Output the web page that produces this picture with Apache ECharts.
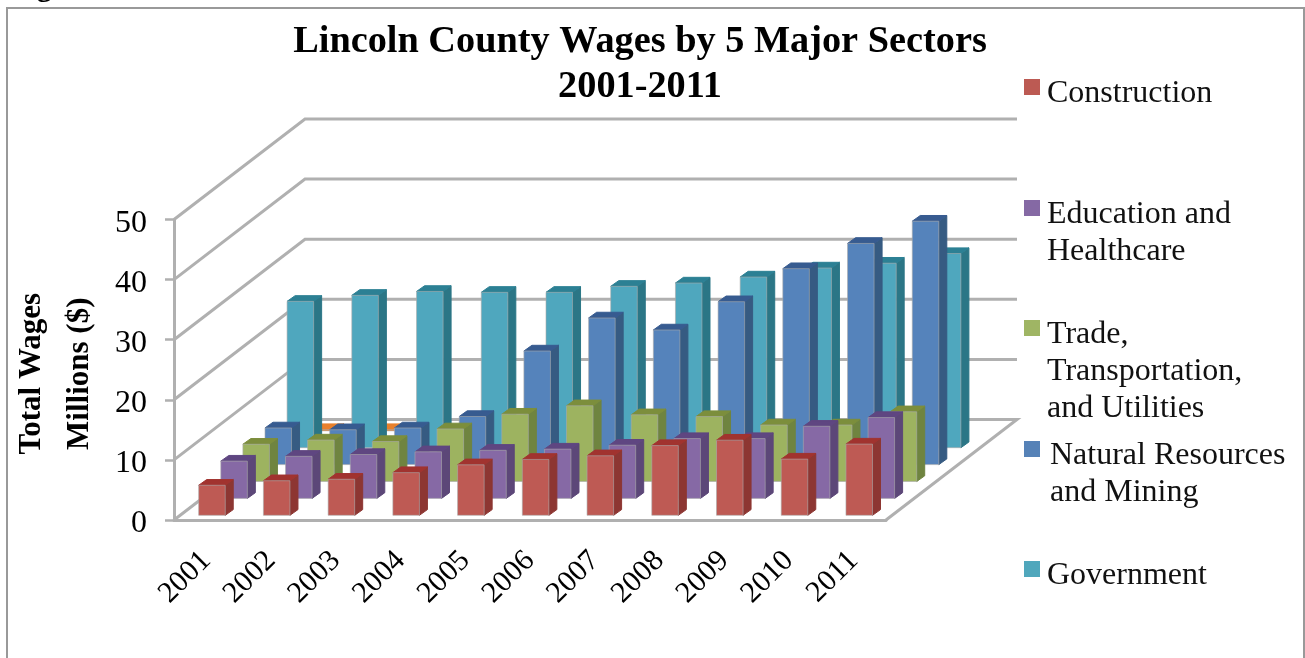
<!DOCTYPE html>
<html>
<head>
<meta charset="utf-8">
<title>Lincoln County Wages by 5 Major Sectors</title>
<script src="https://cdn.jsdelivr.net/npm/echarts@6/dist/echarts.min.js"></script>
<style>
  html, body { margin: 0; padding: 0; background: #fff; overflow: hidden; }
  #chart { width: 1305px; height: 658px; }
</style>
</head>
<body>
<div id="chart"></div>
<script>
// Wages in millions of dollars, one array per sector
const years = ['2001', '2002', '2003', '2004', '2005', '2006', '2007', '2008', '2009', '2010', '2011'];
const construction = [5.0, 5.75, 6.0, 7.1, 8.4, 9.3, 9.9, 11.6, 12.5, 9.35, 11.85];
const education = [6.2, 7.0, 7.3, 7.75, 8.0, 8.2, 8.85, 9.95, 9.95, 12.0, 13.45];
const trade = [6.2, 6.9, 6.65, 8.75, 11.2, 12.6, 11.1, 10.8, 9.4, 9.4, 11.6];
const naturalResources = [6.1, 5.8, 6.1, 8.0, 18.9, 24.4, 22.4, 27.1, 32.6, 36.8, 40.5];
const government = [24.35, 25.35, 26.0, 25.85, 25.85, 26.85, 27.4, 28.4, 29.9, 30.7, 32.3];
const other = [0.2, 0.2];
const valueTicks = [0, 10, 20, 30, 40, 50];

const legendEntries = [
  { label: 'Construction', color: '#BC5A53', y: 79, x: 1047 },
  { label: 'Education and\nHealthcare', color: '#8569A4', y: 200, x: 1047 },
  { label: 'Trade,\nTransportation,\nand Utilities', color: '#9FB564', y: 320, x: 1047 },
  { label: 'Natural Resources\nand Mining', color: '#5682B7', y: 441, x: 1050 },
  { label: 'Government', color: '#50A7BC', y: 561, x: 1047 }
];

// Oblique projection of the depth axis: how far each sector row sits behind the front plane
const ROW_DX = 22.1, ROW_DY = 16.9;
const FIRST_DX = 5.6, FIRST_DY = 4.7;
const BAR_DX = 8, BAR_DY = 5.7;
const WALL_DX = 131, WALL_DY = 100.5;
const BAR_RATIO = 0.41;
const FRAME = '#b0b0b0';
const SERIF = '"Liberation Serif", "Times New Roman", serif';

function barSeries(name, values, row, front, side, top) {
  return {
    name, type: 'custom', coordinateSystem: 'cartesian2d', silent: true,
    encode: { x: 0, y: 1 },
    data: values.map((v, i) => [i, v]),
    renderItem(params, api) {
      const i = api.value(0), v = api.value(1);
      const w = api.size([1, 0])[0] * BAR_RATIO;
      const ox = FIRST_DX + ROW_DX * row, oy = FIRST_DY + ROW_DY * row;
      const base = api.coord([i, 0]), head = api.coord([i, v]);
      const l = base[0] + ox - w / 2, r = l + w, b = base[1] - oy, t = head[1] - oy;
      const face = (points, fill, stroke) => ({
        type: 'polygon', shape: { points },
        style: { fill, stroke: stroke || fill, lineWidth: 1 }
      });
      return {
        type: 'group',
        children: [
          face([[r, b], [r + BAR_DX, b - BAR_DY], [r + BAR_DX, t - BAR_DY], [r, t]], side),
          face([[l, t], [r, t], [r + BAR_DX, t - BAR_DY], [l + BAR_DX, t - BAR_DY]], top),
          face([[l, b], [r, b], [r, t], [l, t]], front, 'rgba(170,170,170,0.6)')
        ]
      };
    }
  };
}

// Side wall diagonals and back wall gridlines, one per value tick, plus the floor's right edge
const wallSeries = {
  name: 'walls', type: 'custom', coordinateSystem: 'cartesian2d', silent: true,
  encode: { y: 1 },
  data: valueTicks.map(t => [0, t]),
  renderItem(params, api) {
    const cs = params.coordSys;
    const v = api.value(1);
    const y = api.coord([0, v])[1];
    const x0 = cs.x, x1 = cs.x + cs.width;
    const points = [[x0, y], [x0 + WALL_DX, y - WALL_DY], [x1 + WALL_DX, y - WALL_DY]];
    if (v === 0) points.push([x1, y]);
    return {
      type: 'polyline', shape: { points },
      style: { fill: null, stroke: FRAME, lineWidth: 3 }
    };
  }
};

const legendGraphics = [];
legendEntries.forEach(e => {
  legendGraphics.push({
    type: 'rect', shape: { x: 1024, y: e.y, width: 16, height: 16 },
    style: { fill: e.color }
  });
  legendGraphics.push({
    type: 'text', x: e.x, y: e.y - 4,
    style: { text: e.label, font: '32px ' + SERIF, lineHeight: 37, fill: '#111', textVerticalAlign: 'top' }
  });
});

const chart = echarts.init(document.getElementById('chart'), null, { renderer: 'canvas' });
chart.setOption({
  animation: false,
  backgroundColor: '#fff',
  title: {
    text: 'Lincoln County Wages by 5 Major Sectors\n2001-2011',
    left: 635, top: 15, textAlign: 'center',
    textStyle: { fontFamily: SERIF, fontWeight: 'bold', fontSize: 38.3, lineHeight: 45, color: '#000' }
  },
  grid: { left: 174, right: 419, top: 219.5, bottom: 138, outerBoundsMode: 'none' },
  xAxis: {
    type: 'category', data: years,
    axisLine: { show: true, lineStyle: { color: FRAME, width: 3 } },
    axisTick: { show: false },
    axisLabel: { rotate: 45, margin: 36, interval: 0, fontFamily: SERIF, fontSize: 30, color: '#000' }
  },
  yAxis: {
    type: 'value', min: 0, max: 50, interval: 10,
    name: 'Total Wages\nMillions ($)',
    nameLocation: 'middle', nameGap: 59, nameRotate: 90,
    nameTextStyle: { fontFamily: SERIF, fontWeight: 'bold', fontSize: 31, lineHeight: 48, color: '#000', padding: [0, 8, 0, 0] },
    axisLine: { show: true, lineStyle: { color: FRAME, width: 3 } },
    axisTick: { show: true, length: 9, lineStyle: { color: FRAME, width: 2.5 } },
    splitLine: { show: false },
    axisLabel: {
      margin: 27,
      formatter: '{v|{value}}',
      rich: { v: { padding: [8, 0, 0, 0], fontFamily: SERIF, fontSize: 32, color: '#000' } }
    }
  },
  series: [
    wallSeries,
    barSeries('Other', other, 5, '#E46C0A', '#B4560A', '#E8802C'),
    barSeries('Government', government, 4, '#4FA7BE', '#2B7686', '#2C8094'),
    barSeries('Natural Resources and Mining', naturalResources, 3, '#5583BB', '#365B82', '#375B90'),
    barSeries('Trade, Transportation, and Utilities', trade, 2, '#9DB360', '#6F8440', '#7C8E3C'),
    barSeries('Education and Healthcare', education, 1, '#8669A5', '#5C4778', '#5F4681'),
    barSeries('Construction', construction, 0, '#BE5A54', '#8D3632', '#A1332F')
  ],
  graphic: [
    {
      type: 'rect', shape: { x: 7, y: 8, width: 1297, height: 700 },
      style: { fill: null, stroke: '#999', lineWidth: 2 }, z: -1
    },
    {
      type: 'text', x: 10, y: -27,
      style: { text: 'Figure', font: 'bold 30px ' + SERIF, fill: '#000', textVerticalAlign: 'top' }
    }
  ].concat(legendGraphics)
});
</script>
</body>
</html>
